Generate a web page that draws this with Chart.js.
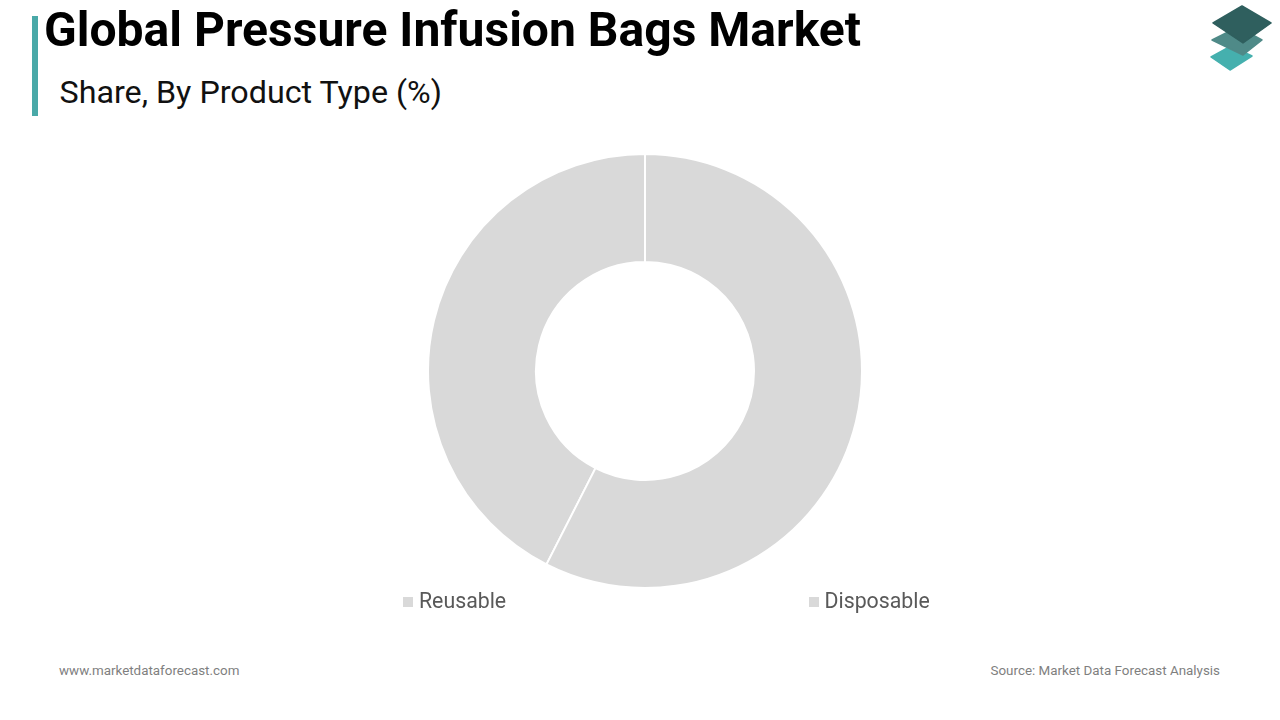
<!DOCTYPE html>
<html>
<head>
<meta charset="utf-8">
<script src="https://cdn.jsdelivr.net/npm/chart.js@4"></script>
<style>
html,body{margin:0;padding:0;background:#fff;width:1280px;height:720px;overflow:hidden;font-family:Roboto,sans-serif}
.abs{position:absolute;white-space:nowrap}
#bar{left:32px;top:16px;width:6px;height:100px;background:#4aa9a8}
#title{left:44px;top:3px;font-size:48.05px;line-height:54px;font-weight:700;color:#000}
#sub{left:59.5px;top:71px;font-size:32.25px;line-height:42px;color:#111}
#wrap{left:425px;top:151px;width:440px;height:440px}
.leg{font-size:21.3px;line-height:28px;color:#595959;top:587px}
.sw{position:absolute;width:10px;height:10px;top:597px;background:#d9d9d9}
.foot{font-size:13.4px;line-height:18px;color:#7f7f7f;top:662px}
</style>
</head>
<body>
<div id="bar" class="abs"></div>
<div id="title" class="abs">Global Pressure Infusion Bags Market</div>
<div id="sub" class="abs">Share, By Product Type (%)</div>
<svg class="abs" style="left:1205px;top:0" width="72" height="76" viewBox="0 0 72 76">
  <path d="M26 46 L47 56 L25 70 L6 57 Z" fill="#45b0ae" stroke="#45b0ae" stroke-width="1.5" stroke-linejoin="round"/>
  <path d="M33 27 L57 40 L38 55 L7 40 Z" fill="#4f8a88" stroke="#4f8a88" stroke-width="1.5" stroke-linejoin="round"/>
  <path d="M37 6 L66 23 L38 43 L8 23 Z" fill="#2f5f5e" stroke="#2f5f5e" stroke-width="1.5" stroke-linejoin="round"/>
</svg>
<div id="wrap" class="abs"><canvas id="c" width="440" height="440"></canvas></div>
<div class="sw" style="left:403px"></div>
<div id="l0" class="abs leg" style="left:419px"></div>
<div class="sw" style="left:809px"></div>
<div id="l1" class="abs leg" style="left:824.5px"></div>
<div class="abs foot" style="left:59px">www.marketdataforecast.com</div>
<div class="abs foot" style="right:60px">Source: Market Data Forecast Analysis</div>
<script>
const categories = ["Reusable", "Disposable"];
const shares = [42.5, 57.5];
const sliceColor = "#d9d9d9";
document.getElementById("l0").textContent = categories[0];
document.getElementById("l1").textContent = categories[1];
new Chart(document.getElementById("c"), {
  type: "doughnut",
  data: {
    labels: categories,
    datasets: [{
      data: shares,
      backgroundColor: sliceColor,
      borderColor: "#ffffff",
      borderWidth: 2
    }]
  },
  options: {
    responsive: false,
    animation: false,
    radius: 217,
    cutout: 110,
    rotation: 360 * shares[1] / 100,
    plugins: { legend: { display: false }, tooltip: { enabled: false } }
  }
});
</script>
</body>
</html>
